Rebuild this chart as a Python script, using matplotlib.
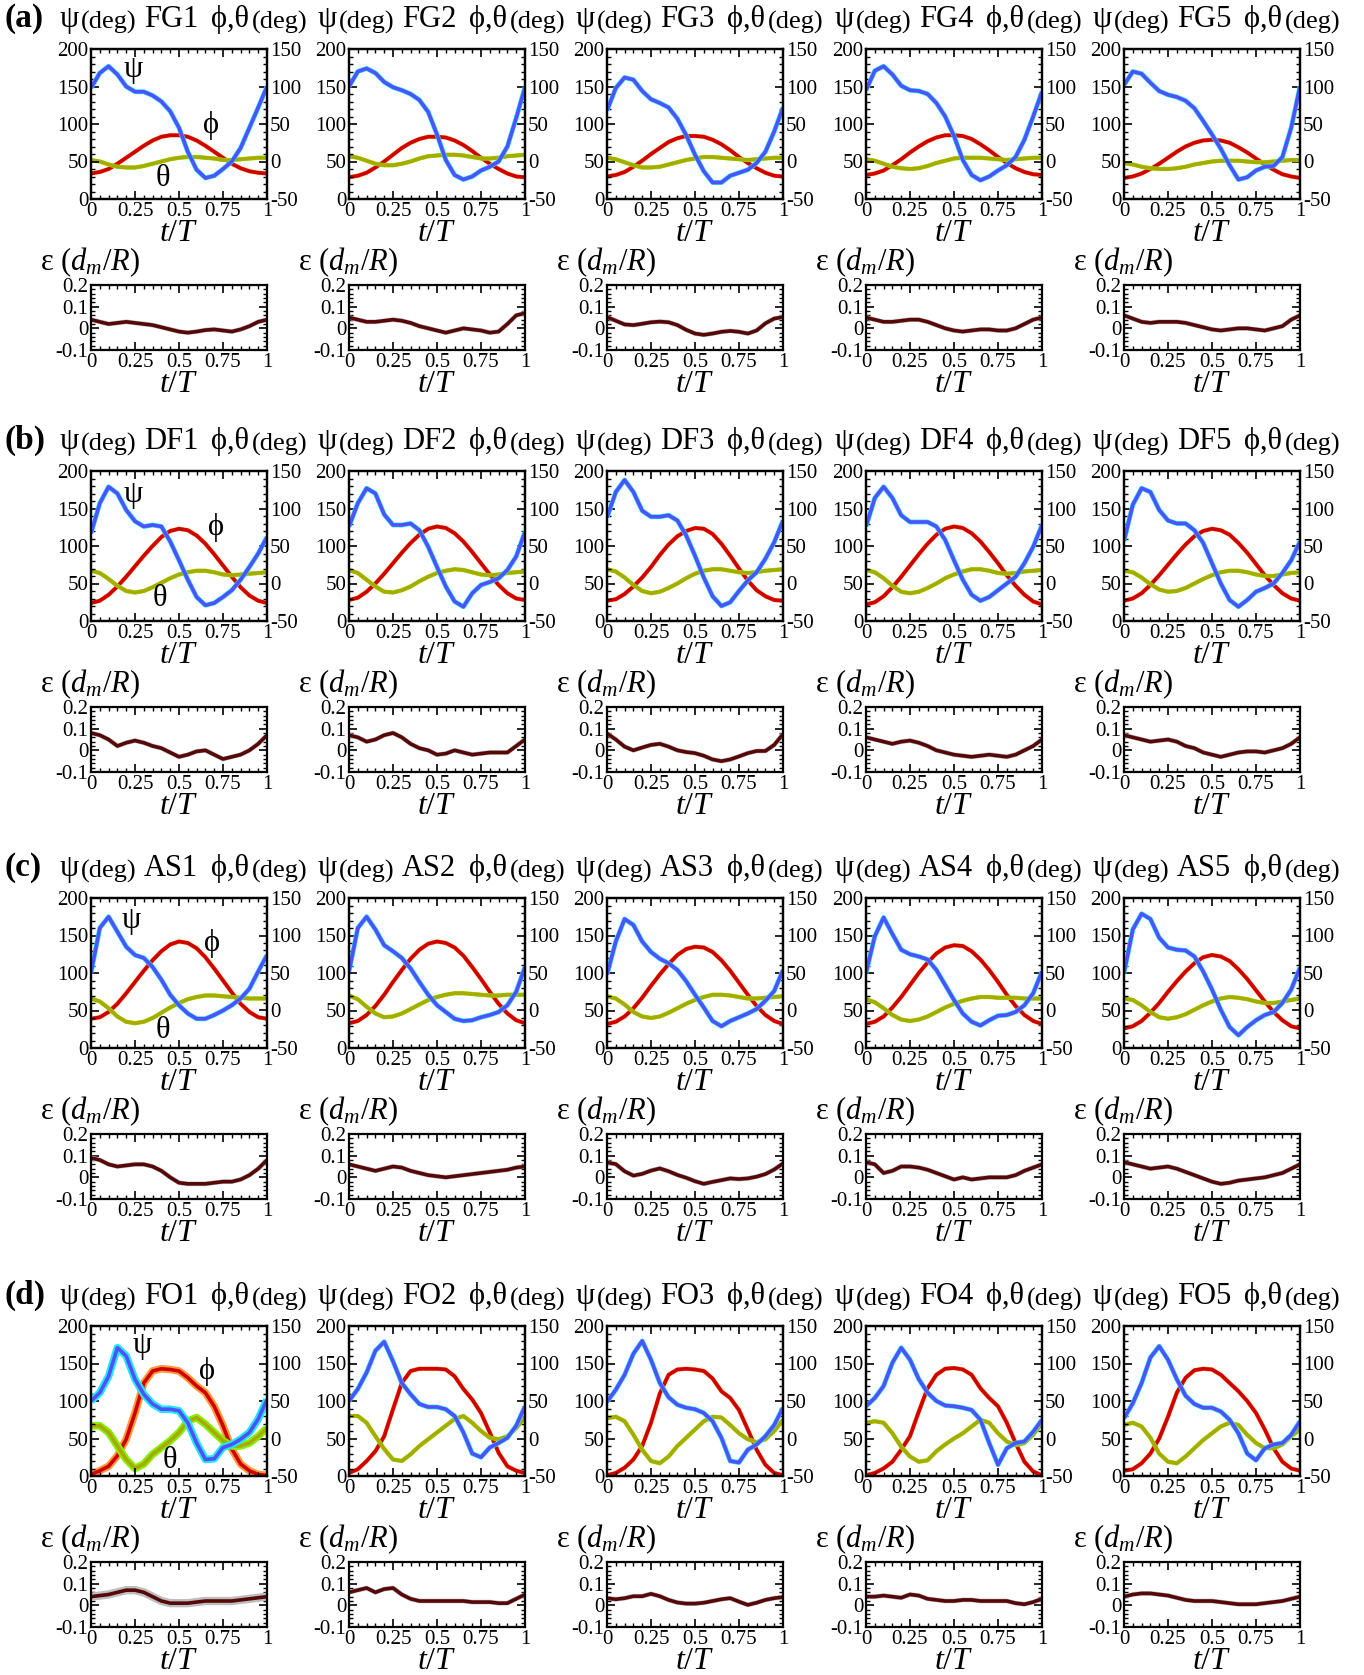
"""
Wing kinematics (psi, phi, theta) and tip deviation for the four flight groups.
"""

import matplotlib
matplotlib.use("Agg")
import matplotlib.pyplot as plt
from matplotlib.text import Annotation
from matplotlib.ticker import MultipleLocator, FuncFormatter

plt.rcParams["font.family"] = ["Liberation Serif", "DejaVu Serif"]
plt.rcParams["mathtext.fontset"] = "custom"
plt.rcParams["mathtext.rm"] = "Liberation Serif"
plt.rcParams["mathtext.it"] = "Liberation Serif:italic"
plt.rcParams["axes.unicode_minus"] = False

T_STEPS = [0.0, 0.05, 0.1, 0.15, 0.2, 0.25, 0.3, 0.35, 0.4, 0.45, 0.5,
           0.55, 0.6, 0.65, 0.7, 0.75, 0.8, 0.85, 0.9, 0.95, 1.0]

GROUP_TAGS = ["(a)", "(b)", "(c)", "(d)"]
CASE_NAMES = [
    ["FG1", "FG2", "FG3", "FG4", "FG5"],
    ["DF1", "DF2", "DF3", "DF4", "DF5"],
    ["AS1", "AS2", "AS3", "AS4", "AS5"],
    ["FO1", "FO2", "FO3", "FO4", "FO5"],
]

# ---- group (a) FG ----
PSI_FG = [
    [148, 168, 177, 166, 150, 143, 143, 138, 130, 117, 95, 63, 39, 28, 31, 40, 50, 68, 95, 122, 150],
    [150, 170, 174, 168, 156, 149, 145, 140, 132, 116, 86, 52, 32, 26, 30, 38, 43, 50, 70, 108, 149],
    [118, 148, 162, 159, 144, 133, 128, 122, 107, 85, 59, 37, 22, 22, 31, 35, 39, 48, 63, 90, 122],
    [145, 171, 177, 166, 151, 145, 144, 140, 128, 110, 84, 52, 32, 25, 30, 38, 45, 56, 79, 110, 143],
    [152, 170, 167, 155, 144, 139, 136, 131, 121, 104, 86, 67, 45, 26, 29, 38, 43, 44, 56, 95, 150],
]
PHI_FG = [
    [-16, -14, -10, -3, 5, 13, 21, 28, 33, 35, 35, 33, 28, 21, 13, 5, -3, -9, -13, -15, -16],
    [-21, -19, -15, -8, 0, 9, 18, 25, 30, 33, 33, 32, 28, 22, 14, 5, -3, -10, -16, -20, -21],
    [-20, -18, -14, -7, 1, 10, 18, 26, 31, 34, 34, 33, 29, 23, 15, 6, -2, -9, -15, -19, -20],
    [-18, -16, -12, -5, 3, 12, 20, 27, 32, 35, 35, 34, 30, 23, 15, 6, -2, -9, -14, -17, -18],
    [-22, -20, -16, -10, -3, 5, 13, 20, 25, 28, 29, 28, 25, 19, 12, 4, -4, -11, -17, -20, -22],
]
THETA_FG = [
    [2, 0, -4, -7, -8, -8, -6, -3, 0, 3, 5, 6, 6, 5, 4, 2, 2, 3, 4, 5, 5],
    [7, 5, 1, -3, -5, -5, -3, 0, 4, 7, 8, 9, 9, 8, 6, 4, 4, 5, 7, 8, 9],
    [5, 3, -1, -5, -8, -8, -7, -4, -1, 2, 4, 6, 6, 5, 4, 3, 2, 3, 4, 5, 5],
    [3, 1, -3, -7, -9, -10, -9, -6, -2, 1, 4, 5, 5, 5, 4, 3, 2, 3, 4, 5, 5],
    [-2, -4, -7, -9, -10, -10, -9, -7, -4, -2, 0, 1, 1, 1, 0, -1, -1, 0, 1, 2, 2],
]
EPS_FG = [
    [0.04, 0.03, 0.02, 0.025, 0.03, 0.025, 0.02, 0.015, 0.005, -0.005, -0.015, -0.02, -0.015, -0.008, -0.005, -0.01, -0.015, -0.005, 0.01, 0.03, 0.04],
    [0.05, 0.04, 0.03, 0.03, 0.035, 0.04, 0.035, 0.025, 0.01, 0.0, -0.01, -0.02, -0.01, 0.0, -0.005, -0.01, -0.02, -0.015, 0.02, 0.06, 0.07],
    [0.052, 0.035, 0.018, 0.015, 0.021, 0.028, 0.031, 0.028, 0.015, -0.007, -0.024, -0.03, -0.024, -0.016, -0.012, -0.016, -0.024, -0.01, 0.023, 0.045, 0.052],
    [0.05, 0.04, 0.03, 0.03, 0.035, 0.04, 0.04, 0.03, 0.015, 0.0, -0.01, -0.015, -0.01, -0.005, -0.005, -0.01, -0.01, 0.0, 0.02, 0.04, 0.05],
    [0.06, 0.045, 0.03, 0.025, 0.03, 0.03, 0.03, 0.025, 0.015, 0.005, -0.005, -0.01, -0.005, 0.0, 0.0, -0.005, -0.01, 0.0, 0.01, 0.04, 0.06],
]

# ---- group (b) DF ----
PSI_DF = [
    [117, 157, 179, 170, 148, 133, 126, 128, 126, 106, 81, 55, 32, 21, 24, 32, 41, 55, 72, 90, 112],
    [126, 157, 177, 170, 142, 128, 128, 130, 121, 99, 72, 46, 26, 19, 37, 48, 52, 57, 68, 86, 119],
    [138, 172, 188, 172, 147, 139, 139, 141, 134, 114, 87, 58, 33, 20, 25, 40, 54, 65, 83, 105, 134],
    [126, 164, 179, 164, 141, 132, 132, 132, 126, 108, 81, 55, 35, 27, 32, 41, 50, 59, 77, 99, 128],
    [107, 155, 177, 172, 148, 134, 130, 130, 121, 104, 77, 50, 28, 19, 28, 39, 44, 50, 64, 81, 106],
]
PHI_DF = [
    [-26, -23, -15, -4, 9, 23, 37, 50, 62, 70, 73, 71, 64, 53, 39, 24, 9, -5, -16, -23, -26],
    [-22, -19, -11, 0, 13, 27, 41, 54, 65, 73, 76, 74, 67, 56, 42, 27, 12, -2, -13, -20, -22],
    [-23, -21, -14, -4, 8, 22, 38, 52, 63, 70, 74, 73, 66, 53, 37, 20, 4, -9, -17, -22, -23],
    [-28, -25, -17, -5, 9, 24, 39, 53, 65, 73, 76, 74, 67, 56, 42, 27, 11, -3, -15, -24, -28],
    [-23, -20, -13, -2, 11, 25, 39, 52, 63, 70, 73, 71, 65, 54, 41, 26, 11, -2, -13, -20, -23],
]
THETA_DF = [
    [17, 14, 6, -3, -10, -12, -10, -5, 1, 7, 12, 15, 17, 17, 15, 12, 11, 12, 13, 14, 15],
    [18, 14, 5, -4, -11, -12, -9, -4, 3, 9, 14, 17, 19, 18, 15, 12, 11, 12, 14, 15, 16],
    [19, 16, 8, -2, -10, -13, -11, -6, 0, 7, 13, 17, 19, 19, 17, 15, 14, 15, 17, 18, 19],
    [18, 15, 7, -3, -11, -13, -11, -6, 0, 7, 12, 16, 19, 19, 17, 14, 13, 14, 16, 17, 18],
    [17, 15, 8, -1, -8, -11, -10, -6, 0, 6, 11, 15, 17, 17, 15, 12, 10, 10, 12, 14, 15],
]
EPS_DF = [
    [0.08, 0.07, 0.05, 0.02, 0.035, 0.045, 0.035, 0.02, 0.01, -0.01, -0.03, -0.02, -0.005, 0.0, -0.02, -0.04, -0.03, -0.02, 0.0, 0.03, 0.07],
    [0.07, 0.06, 0.04, 0.05, 0.07, 0.08, 0.06, 0.03, 0.01, 0.0, -0.02, -0.015, 0.0, -0.01, -0.02, -0.015, -0.01, -0.01, -0.01, 0.02, 0.05],
    [0.078, 0.05, 0.017, 0.0, 0.013, 0.025, 0.03, 0.017, 0.0, -0.008, -0.013, -0.025, -0.042, -0.05, -0.042, -0.028, -0.013, -0.003, -0.003, 0.025, 0.075],
    [0.06, 0.05, 0.04, 0.03, 0.04, 0.045, 0.035, 0.02, 0.0, -0.01, -0.02, -0.025, -0.03, -0.025, -0.02, -0.025, -0.03, -0.02, 0.0, 0.02, 0.05],
    [0.07, 0.06, 0.05, 0.04, 0.045, 0.05, 0.04, 0.02, 0.01, -0.01, -0.02, -0.03, -0.02, -0.01, -0.005, -0.005, -0.01, 0.0, 0.01, 0.03, 0.06],
]

# ---- group (c) AS ----
PSI_AS = [
    [100, 160, 175, 155, 135, 124, 120, 108, 91, 71, 57, 46, 39, 39, 44, 50, 57, 66, 79, 102, 124],
    [102, 160, 175, 158, 137, 129, 120, 106, 88, 71, 57, 48, 39, 36, 37, 41, 44, 48, 57, 75, 108],
    [98, 142, 172, 164, 142, 128, 119, 113, 104, 89, 71, 54, 36, 29, 36, 41, 46, 52, 63, 76, 104],
    [100, 149, 174, 152, 131, 125, 122, 118, 104, 84, 64, 46, 35, 30, 37, 43, 44, 48, 57, 73, 102],
    [100, 158, 179, 172, 147, 134, 131, 130, 122, 102, 78, 51, 28, 17, 28, 37, 44, 48, 60, 78, 107],
]
PHI_AS = [
    [-11, -9, -2, 9, 23, 38, 53, 67, 79, 88, 92, 90, 83, 71, 56, 40, 24, 9, -2, -9, -11],
    [-17, -14, -6, 6, 21, 38, 54, 69, 81, 89, 92, 90, 84, 73, 58, 42, 25, 9, -4, -13, -17],
    [-18, -15, -8, 3, 17, 33, 48, 62, 74, 82, 85, 84, 78, 67, 53, 37, 21, 6, -6, -14, -18],
    [-18, -15, -8, 4, 18, 34, 50, 64, 76, 84, 87, 86, 79, 68, 54, 38, 21, 6, -6, -14, -18],
    [-24, -21, -14, -3, 10, 25, 39, 52, 63, 71, 74, 72, 66, 55, 42, 27, 12, -2, -13, -21, -24],
]
THETA_AS = [
    [16, 12, 3, -8, -15, -17, -15, -10, -3, 4, 10, 15, 18, 20, 20, 19, 18, 17, 16, 16, 16],
    [20, 15, 5, -4, -9, -8, -4, 2, 8, 14, 18, 21, 23, 23, 22, 21, 20, 20, 21, 21, 21],
    [19, 16, 8, -2, -8, -10, -8, -3, 3, 9, 14, 18, 21, 21, 20, 18, 16, 16, 17, 18, 19],
    [15, 11, 3, -6, -12, -14, -12, -8, -2, 4, 9, 13, 16, 18, 18, 17, 17, 17, 16, 16, 16],
    [16, 14, 7, -2, -9, -11, -9, -5, 1, 7, 12, 16, 18, 17, 15, 12, 10, 10, 12, 14, 16],
]
EPS_AS = [
    [0.09, 0.08, 0.06, 0.05, 0.055, 0.06, 0.06, 0.05, 0.03, 0.0, -0.025, -0.03, -0.03, -0.03, -0.025, -0.02, -0.02, -0.01, 0.01, 0.04, 0.08],
    [0.06, 0.05, 0.04, 0.03, 0.04, 0.05, 0.045, 0.03, 0.02, 0.01, 0.005, 0.0, 0.005, 0.01, 0.015, 0.02, 0.025, 0.03, 0.035, 0.045, 0.05],
    [0.069, 0.061, 0.028, 0.008, 0.016, 0.031, 0.041, 0.028, 0.011, -0.002, -0.018, -0.03, -0.021, -0.013, -0.005, -0.008, -0.005, 0.003, 0.015, 0.036, 0.064],
    [0.07, 0.06, 0.02, 0.03, 0.05, 0.05, 0.045, 0.035, 0.02, 0.005, -0.01, 0.0, -0.01, -0.005, 0.0, 0.0, 0.0, 0.01, 0.03, 0.045, 0.06],
    [0.07, 0.06, 0.05, 0.04, 0.045, 0.05, 0.04, 0.025, 0.01, -0.005, -0.02, -0.03, -0.025, -0.015, -0.01, -0.005, 0.0, 0.01, 0.02, 0.04, 0.06],
]

# ---- group (d) FO ----
PSI_FO = [
    [100, 111, 133, 171, 160, 129, 109, 96, 89, 89, 87, 71, 44, 22, 23, 38, 42, 49, 58, 76, 102],
    [100, 116, 138, 167, 179, 153, 124, 109, 96, 92, 92, 89, 80, 58, 30, 25, 38, 44, 51, 67, 93],
    [99, 115, 135, 163, 180, 155, 124, 105, 95, 91, 89, 84, 73, 51, 20, 18, 35, 42, 53, 68, 91],
    [93, 104, 120, 151, 171, 155, 129, 111, 100, 94, 93, 91, 88, 75, 44, 15, 37, 44, 46, 59, 75],
    [77, 97, 124, 158, 173, 155, 129, 107, 96, 91, 91, 86, 75, 57, 30, 21, 37, 42, 44, 55, 73],
]
PHI_FO = [
    [-48, -43, -37, -23, -1, 34, 74, 90, 93, 92, 90, 81, 70, 61, 43, 17, -14, -34, -43, -48, -49],
    [-46, -41, -30, -17, 3, 39, 74, 90, 93, 93, 93, 92, 83, 66, 52, 34, 8, -19, -37, -43, -46],
    [-49, -46, -39, -28, -10, 21, 60, 85, 92, 93, 92, 90, 80, 63, 54, 38, 12, -15, -35, -46, -49],
    [-49, -46, -40, -31, -15, 3, 36, 67, 85, 93, 94, 92, 85, 67, 54, 43, 21, -6, -31, -44, -49],
    [-43, -41, -33, -20, 0, 29, 61, 81, 91, 93, 92, 85, 74, 63, 50, 34, 12, -13, -31, -40, -43],
]
THETA_FO = [
    [17, 17, 8, -10, -28, -40, -34, -21, -12, -3, 8, 23, 28, 19, 8, -3, -10, -10, -6, 3, 14],
    [30, 30, 21, 3, -14, -28, -30, -21, -10, -1, 8, 17, 26, 30, 21, 10, 1, -1, 3, 14, 28],
    [27, 29, 23, 5, -15, -30, -33, -24, -10, 1, 12, 23, 29, 28, 18, 7, -1, -5, -1, 10, 25],
    [21, 23, 21, 7, -11, -24, -31, -29, -17, -8, 0, 7, 16, 25, 21, 7, -4, -9, -6, 5, 21],
    [18, 21, 16, 1, -20, -31, -33, -24, -13, -2, 7, 16, 21, 18, 5, -6, -13, -13, -8, 3, 12],
]
EPS_FO = [
    [0.04, 0.045, 0.05, 0.06, 0.07, 0.07, 0.06, 0.04, 0.02, 0.01, 0.01, 0.01, 0.015, 0.02, 0.02, 0.02, 0.02, 0.025, 0.03, 0.035, 0.04],
    [0.06, 0.07, 0.08, 0.06, 0.075, 0.08, 0.05, 0.03, 0.02, 0.02, 0.02, 0.02, 0.02, 0.02, 0.015, 0.015, 0.015, 0.01, 0.01, 0.03, 0.05],
    [0.033, 0.028, 0.033, 0.042, 0.042, 0.053, 0.042, 0.025, 0.013, 0.008, 0.008, 0.012, 0.02, 0.028, 0.033, 0.017, 0.002, 0.012, 0.025, 0.033, 0.038],
    [0.04, 0.04, 0.045, 0.04, 0.035, 0.05, 0.045, 0.03, 0.025, 0.02, 0.02, 0.025, 0.025, 0.02, 0.02, 0.02, 0.02, 0.01, 0.005, 0.015, 0.03],
    [0.04, 0.05, 0.055, 0.055, 0.05, 0.045, 0.035, 0.025, 0.02, 0.02, 0.02, 0.015, 0.01, 0.005, 0.005, 0.005, 0.01, 0.015, 0.02, 0.03, 0.04],
]

# curve-name label positions in the first column: (t, psi-axis value)
LABEL_PSI = [(0.24, 173), (0.24, 169), (0.23, 170), (0.29, 174)]
LABEL_PHI = [(0.68, 98), (0.71, 125), (0.69, 139), (0.66, 139)]
LABEL_THETA = [(0.41, 27), (0.39, 30), (0.41, 23), (0.45, 21)]

PSI_ALL = [PSI_FG, PSI_DF, PSI_AS, PSI_FO]
PHI_ALL = [PHI_FG, PHI_DF, PHI_AS, PHI_FO]
THETA_ALL = [THETA_FG, THETA_DF, THETA_AS, THETA_FO]
EPS_ALL = [EPS_FG, EPS_DF, EPS_AS, EPS_FO]

# layout in pixels
FIG_W, FIG_H = 1364, 1675
COL_LEFT = [91, 349, 607, 866, 1124]
GROUP_TOP = [49, 471, 898, 1326]
AX_W, AX_H = 176, 150
EPS_OFFSET, EPS_H = 236, 65

PSI_COLOR, PSI_BAND = "#5050ff", "#22e8f2"
PHI_COLOR, PHI_BAND = "#cf0000", "#ff9a3c"
THETA_COLOR, THETA_BAND = "#a9a900", "#86f000"
EPS_COLOR, EPS_BAND = "#560808", "#bdbdbd"

TICK_FMT = FuncFormatter(lambda v, _: f"{v:g}")


def frac(x, y, w, h):
    return [x / FIG_W, 1 - (y + h) / FIG_H, w / FIG_W, h / FIG_H]


def style_axes(ax, right=False):
    for spine in ax.spines.values():
        spine.set_linewidth(1.6)
    ax.tick_params(which="both", direction="in", top=True, right=right,
                   labelsize=15, pad=2)
    ax.tick_params(which="major", length=6, width=1.2)
    ax.tick_params(which="minor", length=3, width=1.0)
    ax.xaxis.set_major_locator(MultipleLocator(0.25))
    ax.xaxis.set_minor_locator(MultipleLocator(0.05))
    ax.xaxis.set_major_formatter(TICK_FMT)
    ax.set_xlim(0, 1)


def curve(ax, y, color, band, band_lw):
    ax.plot(T_STEPS, y, color=band, lw=band_lw, solid_capstyle="butt")
    ax.plot(T_STEPS, y, color=color, lw=2.6, solid_capstyle="butt")


def after(fig, prev, text, size, gap=1):
    """Put text right after another text artist, on the same line."""
    ann = Annotation(text, xy=(1, 0), xycoords=prev, xytext=(gap, 0),
                     textcoords="offset points", fontsize=size, va="bottom")
    fig.add_artist(ann)
    return ann


fig = plt.figure(figsize=(FIG_W / 100, FIG_H / 100), dpi=100)

for g in range(4):
    top = GROUP_TOP[g]
    head_y = 1 - (top - 22) / FIG_H
    fig.text(5 / FIG_W, head_y, GROUP_TAGS[g], fontsize=24, fontweight="bold",
             va="baseline")

    for c in range(5):
        left = COL_LEFT[c]
        wide = (g == 3 and c == 0)

        # header: psi(deg)  NAME  phi,theta(deg)
        t1 = fig.text((left - 31) / FIG_W, head_y, "ψ", fontsize=22, va="baseline")
        after(fig, t1, "(deg)", 19)
        fig.text((left + 80) / FIG_W, head_y, CASE_NAMES[g][c], fontsize=22,
                 ha="center", va="baseline")
        t2 = fig.text((left + 120) / FIG_W, head_y, "ϕ,θ", fontsize=22,
                      va="baseline")
        after(fig, t2, "(deg)", 19, gap=2)

        # kinematics panel
        ax = fig.add_axes(frac(left, top, AX_W, AX_H))
        tw = ax.twinx()
        style_axes(ax)
        ax.set_ylim(0, 200)
        ax.yaxis.set_major_locator(MultipleLocator(50))
        ax.yaxis.set_minor_locator(MultipleLocator(10))
        tw.set_ylim(-50, 150)
        tw.yaxis.set_major_locator(MultipleLocator(50))
        tw.yaxis.set_minor_locator(MultipleLocator(10))
        tw.tick_params(which="both", direction="in", labelsize=15, pad=2)
        tw.tick_params(which="major", length=6, width=1.2)
        tw.tick_params(which="minor", length=3, width=1.0)
        for spine in tw.spines.values():
            spine.set_linewidth(1.6)

        curve(tw, PHI_ALL[g][c], PHI_COLOR, PHI_BAND, 5.5 if wide else 3.1)
        curve(tw, THETA_ALL[g][c], THETA_COLOR, THETA_BAND, 5.5 if wide else 3.1)
        curve(ax, PSI_ALL[g][c], PSI_COLOR, PSI_BAND, 5.5 if wide else 3.5)
        ax.set_zorder(tw.get_zorder() + 1)
        ax.patch.set_visible(False)
        ax.set_xlabel(r"$t/T$", fontsize=23, labelpad=-1)

        if c == 0:
            for pos, sym in zip([LABEL_PSI[g], LABEL_PHI[g], LABEL_THETA[g]],
                                ["ψ", "ϕ", "θ"]):
                ax.text(pos[0], pos[1], sym, fontsize=22, ha="center",
                        va="center")

        # deviation panel
        ex = fig.add_axes(frac(left, top + EPS_OFFSET, AX_W, EPS_H))
        style_axes(ex, right=True)
        ex.set_ylim(-0.1, 0.2)
        ex.yaxis.set_major_locator(MultipleLocator(0.1))
        ex.yaxis.set_minor_locator(MultipleLocator(0.02))
        ex.yaxis.set_major_formatter(TICK_FMT)
        curve(ex, EPS_ALL[g][c], EPS_COLOR, EPS_BAND, 6.0 if wide else 3.4)
        ex.set_xlabel(r"$t/T$", fontsize=23, labelpad=-1)
        fig.text((left - 51) / FIG_W, 1 - (top + EPS_OFFSET - 23) / FIG_H,
                 "ε (" + r"$d_m/R$" + ")", fontsize=22, va="center")

fig.savefig("out.png", dpi=100)
